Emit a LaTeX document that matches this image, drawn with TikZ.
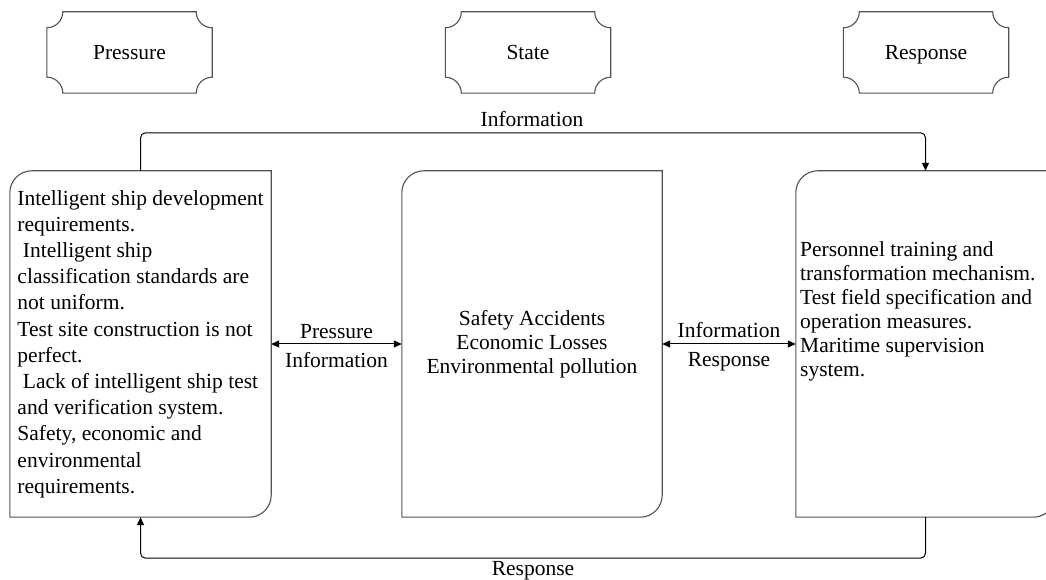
\documentclass[tikz,border=0pt]{standalone}
\usepackage{fontspec}
\setmainfont{Liberation Serif}
\usetikzlibrary{arrows.meta,calc}

% outline of a plaque with concave (scooped) corners
\newcommand\plaqueoutline[1]{%
  \draw[boxline] ([xshift=16pt]#1.north west) -- ([xshift=-16pt]#1.north east)
    arc[start angle=180,end angle=270,radius=16pt] -- ([yshift=16pt]#1.south east)
    arc[start angle=90,end angle=180,radius=16pt] -- ([xshift=16pt]#1.south west)
    arc[start angle=0,end angle=90,radius=16pt] -- ([yshift=-16pt]#1.north west)
    arc[start angle=270,end angle=360,radius=16pt] -- cycle;}
% outline of a box with rounded top-left and bottom-right corners
\newcommand\diagoutline[1]{%
  \draw[boxline] ([yshift=-22pt]#1.north west)
    arc[start angle=180,end angle=90,radius=22pt] -- (#1.north east)
    -- ([yshift=22pt]#1.south east)
    arc[start angle=0,end angle=-90,radius=22pt] -- (#1.south west) -- cycle;}

\tikzset{
  boxline/.style={draw=black!68, line width=1.1pt},
  plaque/.style={minimum width=165pt, minimum height=81pt, inner sep=0pt,
    text height=17pt, text depth=3pt,
    font=\fontsize{21.5}{24}\selectfont},
  bigbox/.style={minimum width=#1, minimum height=346pt, inner sep=0pt},
  conn/.style={draw=black, line width=1pt, rounded corners=5pt,
    -{Triangle[length=8pt,width=7pt]}},
  dbl/.style={draw=black, line width=1pt,
    {Triangle[length=8pt,width=7pt]}-{Triangle[length=8pt,width=7pt]}},
  lbl/.style={font=\fontsize{21.5}{24}\selectfont, inner sep=2pt},
}

\begin{document}
\begin{tikzpicture}[x=1pt,y=1pt]
\clip (0,0) rectangle (1046,580);
\fill[white] (0,0) rectangle (1046,580);

% header plaques
\node[plaque] (P) at (129.5,527.5) {Pressure};
\node[plaque] (S) at (528,527.5) {State};
\node[plaque] (Rs) at (926,527.5) {Response};
\plaqueoutline{P}
\plaqueoutline{S}
\plaqueoutline{Rs}

% the three main boxes
\node[bigbox=261pt, align=left,
      font=\fontsize{21.5}{26.2}\selectfont] (L) at (140.5,236) {%
Intelligent ship development\\
requirements.\\
\hspace*{.25em}Intelligent ship\\
classification standards are\\
not uniform.\\
Test site construction is not\\
perfect.\\
\hspace*{.25em}Lack of intelligent ship test\\
and verification system.\\
Safety, economic and\\
environmental\\
requirements.};
\node[bigbox=260pt, align=center,
      font=\fontsize{21.5}{24}\selectfont] (M) at (532,236) {%
Safety Accidents\\Economic Losses\\Environmental pollution};
\node[bigbox=259pt] (R) at (925.5,236) {};
\node[anchor=west, align=left, inner sep=0pt,
      font=\fontsize{21.5}{24}\selectfont] (Rt) at (800,269) {%
Personnel training and\\
transformation mechanism.\\
Test field specification and\\
operation measures.\\
Maritime supervision\\
system.};
\diagoutline{L}
\diagoutline{M}
\diagoutline{R}

% exchanges between neighbouring boxes
\draw[dbl] (L.east) -- (M.west)
  node[lbl, midway, above=3pt] {Pressure}
  node[lbl, midway, below=6pt] {Information};
\draw[dbl] (M.east) -- (R.west)
  node[lbl, midway, above=4pt] {Information}
  node[lbl, midway, below=6pt] {Response};

% feedback loops over and under the boxes
\draw[conn] (L.north) -- ++(0,38) -| (R.north);
\draw[conn] (R.south) -- ++(0,-41) -| (L.south);
\node[lbl] (infolbl) at (532,461) {Information};
\node[lbl] (resplbl) at (533,9) {Response};
\end{tikzpicture}
\end{document}
